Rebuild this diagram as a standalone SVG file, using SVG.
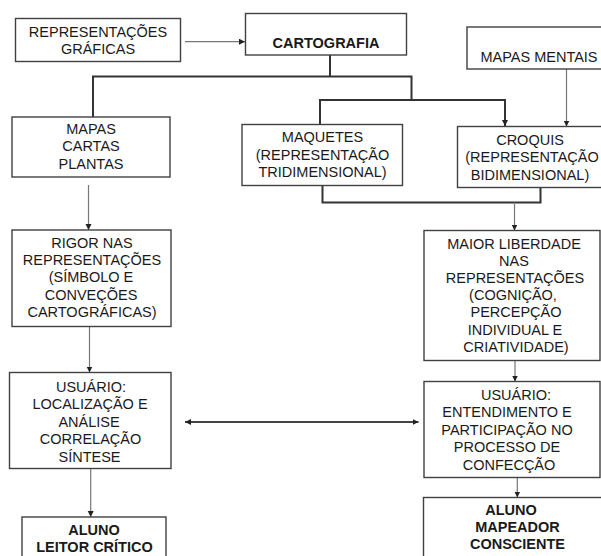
<svg xmlns="http://www.w3.org/2000/svg" width="601" height="556" viewBox="0 0 601 556">
<style>
.box{fill:#fff;stroke:#404040;stroke-width:1.4}
text{font-family:"Liberation Sans",Arial,sans-serif;font-size:14.5px;fill:#1a1a1a;text-anchor:middle}
.b{font-weight:bold}
.br{fill:none;stroke:#333;stroke-width:2}
.ar{fill:none;stroke:#777;stroke-width:1.2}
.dbl{fill:none;stroke:#444;stroke-width:2}
</style>
<defs>
<marker id="ah" markerUnits="userSpaceOnUse" markerWidth="7" markerHeight="7" refX="6" refY="3" orient="auto-start-reverse">
<path d="M0,0 L6,3 L0,6 z" fill="#222"/>
</marker>
</defs>
<rect width="601" height="556" fill="#fff"/>
<g id="connectors">
<path class="ar" d="M185,41.7 H245" marker-end="url(#ah)"/>
<path class="br" d="M330,55 V76.5"/>
<path class="br" d="M93,117 V76.5 H411.5 V100"/>
<path class="br" d="M320,124.5 V100 H505 V126" marker-end="url(#ah)"/>
<path class="ar" d="M566.5,69 V126.5" marker-end="url(#ah)"/>
<path class="br" d="M322.5,185.5 V202.5 H540.5 V187.5"/>
<path class="ar" d="M514.5,202.5 V230.5" marker-end="url(#ah)"/>
<path class="ar" d="M88.5,185 V230" marker-end="url(#ah)"/>
<path class="ar" d="M89.5,327 V372.5" marker-end="url(#ah)"/>
<path class="ar" d="M90.7,469 V517" marker-end="url(#ah)"/>
<path class="ar" d="M515,361 V381.5" marker-end="url(#ah)"/>
<path class="ar" d="M517.3,478 V497.5" marker-end="url(#ah)"/>
<path class="dbl" d="M185,422 H418.5" marker-start="url(#ah)" marker-end="url(#ah)"/>
</g>
<g id="rep_graficas">
<rect class="box" x="15.5" y="18.5" width="165" height="43"/>
<text x="98" y="37.3">REPRESENTAÇÕES</text>
<text x="98" y="54">GRÁFICAS</text>
</g>
<g id="cartografia">
<rect class="box" x="245.5" y="13.5" width="161" height="41.5"/>
<text class="b" x="326" y="48.3">CARTOGRAFIA</text>
</g>
<g id="mapas_mentais">
<rect class="box" x="467" y="27" width="150" height="42"/>
<text x="539" y="61.7">MAPAS MENTAIS</text>
</g>
<g id="mapas">
<rect class="box" x="12" y="117" width="158" height="60"/>
<text x="91" y="133.5">MAPAS</text>
<text x="91" y="151">CARTAS</text>
<text x="91" y="168.5">PLANTAS</text>
</g>
<g id="maquetes">
<rect class="box" x="242" y="124.5" width="160.5" height="61"/>
<text x="322.5" y="142">MAQUETES</text>
<text x="322.5" y="159.5">(REPRESENTAÇÃO</text>
<text x="322.5" y="177">TRIDIMENSIONAL)</text>
</g>
<g id="croquis">
<rect class="box" x="457.5" y="126.5" width="155" height="61"/>
<text x="530" y="144.5">CROQUIS</text>
<text x="532" y="162">(REPRESENTAÇÃO</text>
<text x="530" y="179.5">BIDIMENSIONAL)</text>
</g>
<g id="rigor">
<rect class="box" x="12" y="230" width="159" height="96.5"/>
<text x="92" y="247.5">RIGOR NAS</text>
<text x="92" y="264.9">REPRESENTAÇÕES</text>
<text x="91" y="282.3">(SÍMBOLO E</text>
<text x="91" y="299.7">CONVEÇÕES</text>
<text x="92" y="317.1">CARTOGRÁFICAS)</text>
</g>
<g id="maior_liberdade">
<rect class="box" x="424" y="230.5" width="176" height="130"/>
<text x="514" y="248.5">MAIOR LIBERDADE</text>
<text x="514" y="265.7">NAS</text>
<text x="515" y="282.9">REPRESENTAÇÕES</text>
<text x="513" y="300.1">(COGNIÇÃO,</text>
<text x="516" y="317.3">PERCEPÇÃO</text>
<text x="515" y="334.5">INDIVIDUAL E</text>
<text x="516" y="351.7">CRIATIVIDADE)</text>
</g>
<g id="usuario_left">
<rect class="box" x="9.5" y="372.5" width="161.5" height="96"/>
<text x="91" y="392">USUÁRIO:</text>
<text x="90" y="409.4">LOCALIZAÇÃO E</text>
<text x="89" y="426.8">ANÁLISE</text>
<text x="90.5" y="444.2">CORRELAÇÃO</text>
<text x="89.5" y="461.6">SÍNTESE</text>
</g>
<g id="usuario_right">
<rect class="box" x="424" y="381.5" width="176" height="96"/>
<text x="516" y="399.5">USUÁRIO:</text>
<text x="507" y="417">ENTENDIMENTO E</text>
<text x="507" y="434.5">PARTICIPAÇÃO NO</text>
<text x="507" y="452">PROCESSO DE</text>
<text x="509" y="469.5">CONFECÇÃO</text>
</g>
<g id="aluno_leitor">
<rect class="box" x="22" y="517" width="144" height="60"/>
<text class="b" x="94" y="535.3">ALUNO</text>
<text class="b" x="94.5" y="552">LEITOR CRÍTICO</text>
</g>
<g id="aluno_mapeador">
<rect class="box" x="423.5" y="497.5" width="180" height="80"/>
<text class="b" x="511" y="514.5">ALUNO</text>
<text class="b" x="517.5" y="532">MAPEADOR</text>
<text class="b" x="517.5" y="548.5">CONSCIENTE</text>
</g>
</svg>
